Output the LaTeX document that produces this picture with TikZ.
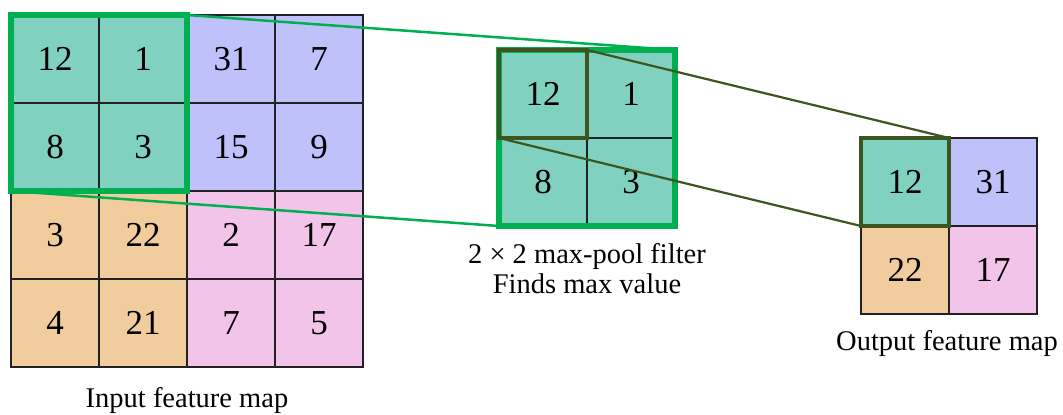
\documentclass[tikz,border=0pt]{standalone}
\usepackage{fontspec}
\setmainfont{Liberation Serif}
\definecolor{poolteal}{RGB}{128,209,192}
\definecolor{poolblue}{RGB}{191,194,250}
\definecolor{poolorange}{RGB}{241,204,156}
\definecolor{poolpink}{RGB}{242,196,233}
\definecolor{windowgreen}{RGB}{0,176,80}
\definecolor{maxolive}{RGB}{61,86,31}
\definecolor{gridline}{RGB}{34,34,34}
\begin{document}
\begin{tikzpicture}[x=1bp, y=-1bp,
  cell/.style={draw=gridline, line width=1.2bp, minimum size=88bp, inner sep=0pt,
    outer sep=0pt, font=\fontsize{35bp}{42bp}\selectfont},
  window/.style={draw=windowgreen, line width=6bp, minimum size=176bp, inner sep=0pt, outer sep=0pt},
  maxbox/.style={draw=maxolive, line width=4.5bp, minimum size=88bp, inner sep=0pt, outer sep=0pt},
  greenlink/.style={draw=windowgreen, line width=2.5bp},
  olivelink/.style={draw=maxolive, line width=2.2bp},
  caption/.style={anchor=base, inner sep=0pt, font=\fontsize{28.5bp}{34bp}\selectfont}]
  \useasboundingbox (0,0) rectangle (1063,414);

  % input feature map (4 x 4)
  \foreach \r/\c/\v/\col in {1/1/12/poolteal, 1/2/1/poolteal, 1/3/31/poolblue, 1/4/7/poolblue,
      2/1/8/poolteal, 2/2/3/poolteal, 2/3/15/poolblue, 2/4/9/poolblue,
      3/1/3/poolorange, 3/2/22/poolorange, 3/3/2/poolpink, 3/4/17/poolpink,
      4/1/4/poolorange, 4/2/21/poolorange, 4/3/7/poolpink, 4/4/5/poolpink}
    \node[cell, fill=\col] (in-\r-\c) at ({55+88*(\c-1)}, {59+88*(\r-1)}) {\v};

  % pooling filter (2 x 2)
  \foreach \r/\c/\v in {1/1/12, 1/2/1, 2/1/8, 2/2/3}
    \node[cell, fill=poolteal] (flt-\r-\c) at ({543+88*(\c-1)}, {94+88*(\r-1)}) {\v};

  % output feature map (2 x 2)
  \foreach \r/\c/\v/\col in {1/1/12/poolteal, 1/2/31/poolblue, 2/1/22/poolorange, 2/2/17/poolpink}
    \node[cell, fill=\col] (out-\r-\c) at ({905+88*(\c-1)}, {182+88*(\r-1)}) {\v};

  % pooling windows
  \node[window] (inwin) at (99,103) {};
  \node[window] (fltwin) at (587,138) {};
  \draw[greenlink] (inwin.north east) -- (fltwin.north east);
  \draw[greenlink] (inwin.south west) -- (fltwin.south west);

  % selected maximum
  \node[maxbox] (fltmax) at (flt-1-1) {};
  \node[maxbox] (outmax) at (out-1-1) {};
  \draw[olivelink] (fltmax.north east) -- (outmax.north east);
  \draw[olivelink] (fltmax.south west) -- (outmax.south west);

  % captions
  \node[caption] (incap) at (187,407) {Input feature map};
  \node[caption] (fltcap1) at (587,263) {2 × 2 max-pool filter};
  \node[caption] (fltcap2) at (587,293) {Finds max value};
  \node[caption] (outcap) at (947,350) {Output feature map};
\end{tikzpicture}
\end{document}
